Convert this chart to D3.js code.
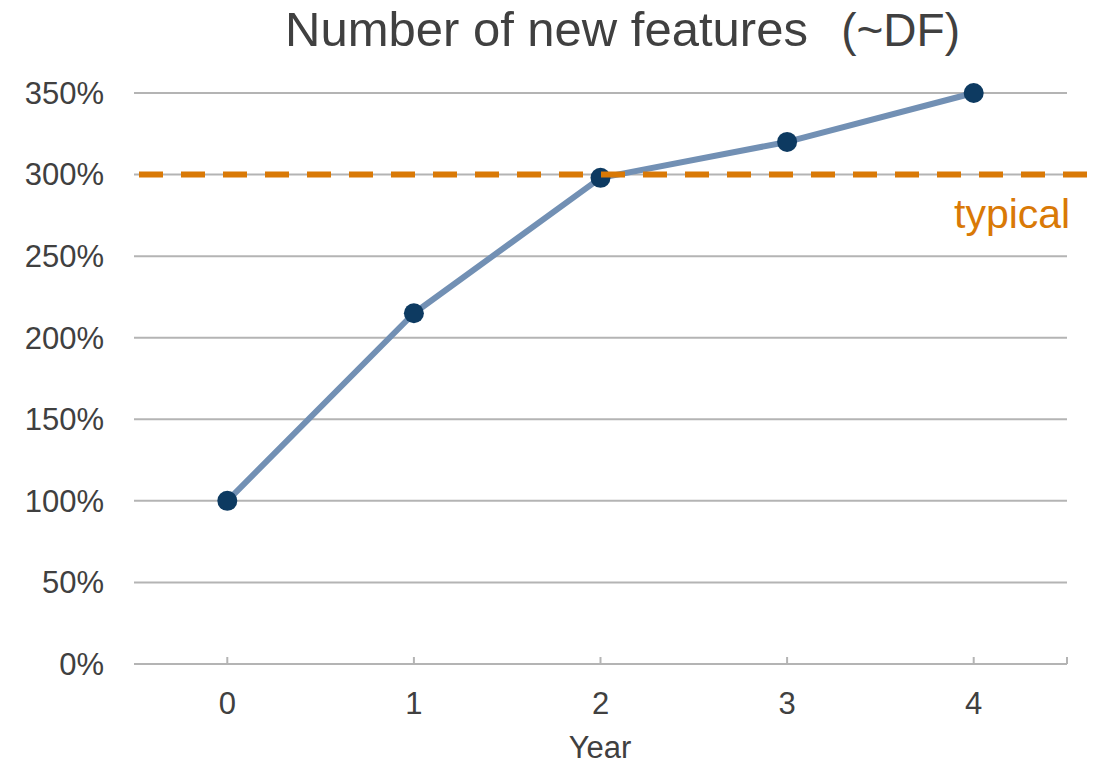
<!DOCTYPE html>
<html>
<head>
<meta charset="utf-8">
<script src="https://cdn.jsdelivr.net/npm/d3@7"></script>
<style>
  html, body { margin: 0; padding: 0; background: #fff; }
  svg { display: block; font-family: "Liberation Sans", Arial, sans-serif; }
</style>
</head>
<body>
<svg id="chart" width="1099" height="765"></svg>
<script>
// ---- data ----
const years = ["0", "1", "2", "3", "4"];
const values = [100, 215, 298, 320, 350];       // percent
const yTicks = [0, 50, 100, 150, 200, 250, 300, 350];
const typicalValue = 300;
const titleMain = "Number of new features";
const titleSuffix = "(~DF)";
const xLabel = "Year";
const typicalLabel = "typical";

// ---- layout ----
const svg = d3.select("#chart");
const plotLeft = 134, plotRight = 1067, plotTop = 93, plotBottom = 664;
const textColor = "#404040";
const gridColor = "#b4b4b4";
const lineColor = "#7290b4";
const markerColor = "#0d3a61";
const orange = "#d97906";

const x = d3.scalePoint().domain(years).range([plotLeft, plotRight]).padding(0.5);
const y = d3.scaleLinear().domain([0, 350]).range([plotBottom, plotTop]);

// gridlines
svg.append("g").selectAll("line").data(yTicks).join("line")
  .attr("x1", plotLeft).attr("x2", plotRight)
  .attr("y1", d => y(d)).attr("y2", d => y(d))
  .attr("stroke", gridColor).attr("stroke-width", 2);

// y tick labels
svg.append("g").selectAll("text").data(yTicks).join("text")
  .attr("x", 104).attr("y", d => y(d)).attr("dy", "0.35em")
  .attr("text-anchor", "end")
  .attr("font-size", 31).attr("fill", textColor)
  .text(d => d + "%");

// x axis ticks (pointing up) at categories and right end
const tickXs = years.map(d => x(d)).concat([plotRight]);
svg.append("g").selectAll("line").data(tickXs).join("line")
  .attr("x1", d => d).attr("x2", d => d)
  .attr("y1", plotBottom).attr("y2", plotBottom - 7)
  .attr("stroke", gridColor).attr("stroke-width", 2);

// x tick labels
svg.append("g").selectAll("text").data(years).join("text")
  .attr("x", d => x(d)).attr("y", 714)
  .attr("text-anchor", "middle")
  .attr("font-size", 31).attr("fill", textColor)
  .text(d => d);

// x axis title
svg.append("text")
  .attr("x", 600).attr("y", 758)
  .attr("text-anchor", "middle")
  .attr("font-size", 31).attr("fill", textColor)
  .text(xLabel);

// chart title
svg.append("text")
  .attr("x", 285).attr("y", 46)
  .attr("font-size", 49).attr("fill", textColor)
  .text(titleMain);
svg.append("text")
  .attr("x", 960).attr("y", 46)
  .attr("text-anchor", "end")
  .attr("font-size", 46).attr("fill", textColor)
  .text(titleSuffix);

// data line
const line = d3.line().x((d, i) => x(years[i])).y(d => y(d));
svg.append("path").datum(values)
  .attr("d", line)
  .attr("fill", "none")
  .attr("stroke", lineColor).attr("stroke-width", 6)
  .attr("stroke-linejoin", "round");

// markers
svg.append("g").selectAll("circle").data(values).join("circle")
  .attr("cx", (d, i) => x(years[i])).attr("cy", d => y(d))
  .attr("r", 10).attr("fill", markerColor);

// typical dashed line
svg.append("line")
  .attr("x1", 139).attr("x2", 1088)
  .attr("y1", y(typicalValue)).attr("y2", y(typicalValue))
  .attr("stroke", orange).attr("stroke-width", 6)
  .attr("stroke-dasharray", "24 18");

svg.append("text")
  .attr("x", 954).attr("y", 228)
  .attr("font-size", 41).attr("fill", orange)
  .text(typicalLabel);
</script>
</body>
</html>
